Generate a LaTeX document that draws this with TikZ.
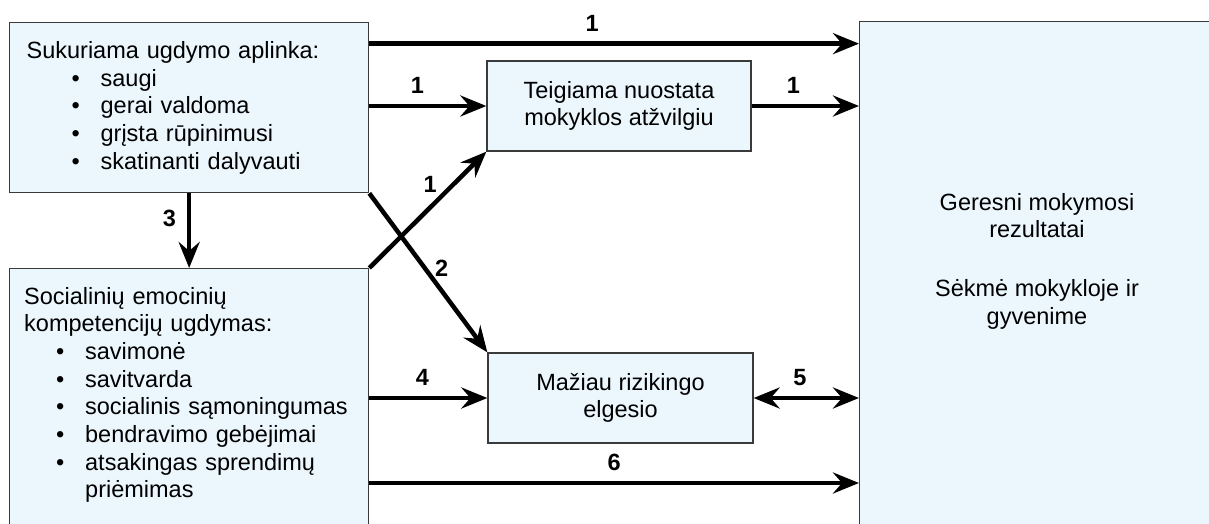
\documentclass[tikz,border=0pt]{standalone}
\usepackage{fontspec}
\setmainfont{Liberation Sans}
\usetikzlibrary{arrows.meta, calc}
\definecolor{boxfill}{HTML}{EBF7FD}
\definecolor{boxline}{HTML}{3A3A3A}
\tikzset{> = { Stealth[length = 26pt, width = 21pt, inset = 9pt] }}
\tikzset{
	box/.style = { draw = boxline, fill = boxfill, line width = 1.3pt, inner sep = 0pt },
	txt/.style = { font = \fontsize{23.5}{27.7}\selectfont },
	conn/.style = { line width = 4.5pt },
	num/.style = { font = \fontsize{23.5}{27}\selectfont\bfseries, inner sep = 0pt }
}
\newcommand{\itm}[2]{\hspace*{#1}\makebox[29pt][l]{•}#2}

\begin{document}
\begin{tikzpicture}[x = 1pt, y = 1pt]
	\useasboundingbox (0, 0) rectangle (1209, -524);
	\clip (0, 0) rectangle (1209, -524);

	% Boxes.
	\node [box, txt, anchor = north west, minimum width = 359pt, minimum height = 170pt,
		inner xsep = 17pt, text width = 325pt, align = left] (env) at (9, -22)
		{Sukuriama ugdymo aplinka:\\
		\itm{45pt}{saugi}\\
		\itm{45pt}{gerai valdoma}\\
		\itm{45pt}{grįsta rūpinimusi}\\
		\itm{45pt}{skatinanti dalyvauti}};

	\node [box, anchor = north west, minimum width = 359pt, minimum height = 265pt] (sel) at (9, -268) {};
	\node [txt, anchor = base west, inner sep = 0pt, text width = 330pt, align = left] (seltxt) at (24, -304)
		{Socialinių emocinių\\
		kompetencijų ugdymas:\\
		\itm{32pt}{savimonė}\\
		\itm{32pt}{savitvarda}\\
		\itm{32pt}{socialinis sąmoningumas}\\
		\itm{32pt}{bendravimo gebėjimai}\\
		\itm{32pt}{atsakingas sprendimų}\\
		\hspace*{61pt}priėmimas};

	\node [box, txt, minimum width = 264pt, minimum height = 90pt, align = center] (att) at (619, -106)
		{Teigiama nuostata\\mokyklos atžvilgiu};
	\node [box, txt, minimum width = 265pt, minimum height = 90pt, align = center] (risk) at (620.5, -398)
		{Mažiau rizikingo\\elgesio};

	\node [box, anchor = north west, minimum width = 360pt, minimum height = 510pt] (res) at (859, -21) {};
	\node [txt, inner sep = 0pt, align = center] (restxt) at (1037, -261)
		{Geresni mokymosi\\rezultatai\\[31pt]Sėkmė mokykloje ir\\gyvenime};

	% Connectors.
	\draw [conn, ->] ([yshift = 64pt]env.east) -- ([yshift = 64pt]env.east -| res.west)
		node [num, pos = 0.455, above = 10pt] {1};
	\draw [conn, ->] (env.east |- att.west) -- (att.west)
		node [num, pos = 0.41, above = 10pt] {1};
	\draw [conn, ->] (att.east) -- (att.east -| res.west)
		node [num, pos = 0.39, above = 10pt] {1};
	\draw [conn, ->] (sel.north east) -- (att.south west)
		node [num, pos = 0.52, above = 13pt] {1};
	\draw [conn, ->] (env.south east) -- (risk.north west)
		node [num, pos = 0.47, right = 8pt] {2};
	\draw [conn, ->] (env.south) -- (sel.north)
		node [num, pos = 0.33, left = 11pt] {3};
	\draw [conn, ->] (sel.east |- risk.west) -- (risk.west)
		node [num, pos = 0.45, above = 10pt] {4};
	\draw [conn, <->] (risk.east) -- (risk.east -| res.west)
		node [num, pos = 0.44, above = 10pt] {5};

	\coordinate (low) at ($(sel.east |- risk.west) + (0, -85)$);
	\draw [conn, ->] (low) -- (low -| res.west)
		node [num, pos = 0.5, above = 10pt] {6};
\end{tikzpicture}
\end{document}
